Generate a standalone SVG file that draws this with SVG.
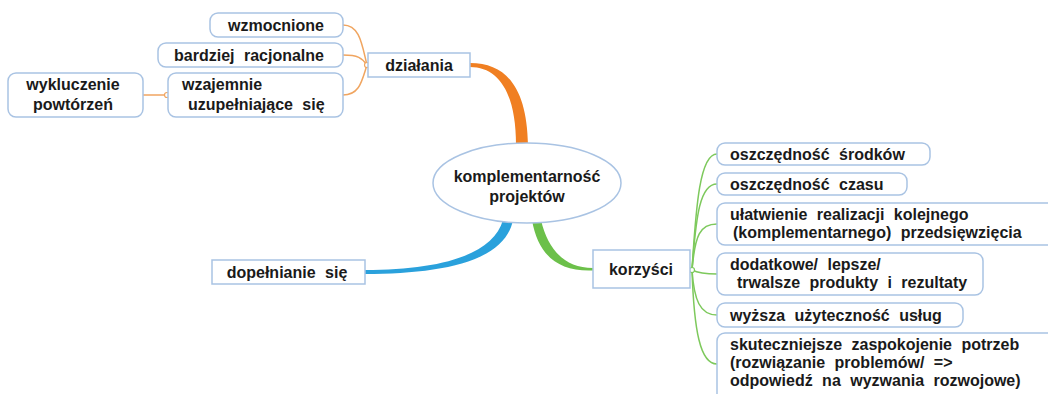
<svg xmlns="http://www.w3.org/2000/svg" width="1048" height="394" viewBox="0 0 1048 394">
<style>
text{font-family:"Liberation Sans",Arial,sans-serif;font-weight:bold;font-size:16px;fill:#1a1a1a;word-spacing:5px}
.c{text-anchor:middle}
.box{fill:#fff;stroke:#a9c3e3;stroke-width:1.5}
.ot{fill:none;stroke:#f0a560;stroke-width:1.5}
.gt{fill:none;stroke:#7dc95c;stroke-width:1.5}
.od{fill:#fff;stroke:#f0a560;stroke-width:1.2}
.gd{fill:#fff;stroke:#7dc95c;stroke-width:1.2}
</style>
<rect width="1048" height="394" fill="#fff"/>
<g id="connectors">
<path d="M470,63 C508,63 527,90 528,145 L516,145 C516,95 500,67 470,67 Z" fill="#f07f22"/>
<path d="M365,270 C440,270 493,255 503,220 L513,220 C505,262 440,274 365,274 Z" fill="#2aa1dc"/>
<path d="M532,220 L541,220 C548,250 565,268 593,268 L593,270.5 C558,272 538,255 532,220 Z" fill="#6cc04a"/>
<path class="ot" d="M343,25 C360,25 362,45 367,65"/>
<path class="ot" d="M343,55 C358,55 362,58 367,65"/>
<path class="ot" d="M343,95 C360,95 362,80 367,65"/>
<path class="ot" d="M143,95 L167,95"/>
<circle class="od" cx="367" cy="65" r="2.5"/>
<circle class="od" cx="167" cy="95" r="2.5"/>
<path class="gt" d="M692,270 C696,205 700,154 717,154"/>
<path class="gt" d="M692,270 C696,215 700,184 717,184"/>
<path class="gt" d="M692,270 C695,235 700,224 717,224"/>
<path class="gt" d="M692,270 C696,272 705,274 717,274"/>
<path class="gt" d="M692,270 C694,300 700,315 717,315"/>
<path class="gt" d="M692,270 C694,330 700,364 717,364"/>
<circle class="gd" cx="692" cy="270" r="2.5"/>
</g>
<g id="center">
<ellipse cx="527" cy="183" rx="94" ry="40" fill="#fff" stroke="#a9c3e3" stroke-width="1.5"/>
<text class="c" x="527" y="182">komplementarność</text>
<text class="c" x="527" y="202">projektów</text>
</g>
<g id="dzialania">
<rect class="box" x="368" y="53" width="102" height="24"/>
<text class="c" x="419" y="71">działania</text>
</g>
<g id="wzmocnione">
<rect class="box" x="210" y="13" width="133" height="24" rx="8"/>
<text class="c" x="276" y="31">wzmocnione</text>
</g>
<g id="bardziej">
<rect class="box" x="158" y="43" width="185" height="24" rx="8"/>
<text class="c" x="249" y="61">bardziej racjonalne</text>
</g>
<g id="wzajemnie">
<rect class="box" x="168" y="73" width="175" height="44" rx="8"/>
<text x="182" y="90">wzajemnie</text>
<text x="188" y="110">uzupełniające się</text>
</g>
<g id="wykluczenie">
<rect class="box" x="8" y="73" width="135" height="44" rx="8"/>
<text class="c" x="73" y="90">wykluczenie</text>
<text class="c" x="73" y="110">powtórzeń</text>
</g>
<g id="dopelnianie">
<rect class="box" x="212" y="260" width="153" height="24"/>
<text class="c" x="287" y="278">dopełnianie się</text>
</g>
<g id="korzysci">
<rect class="box" x="593" y="250" width="97" height="38"/>
<text class="c" x="641" y="275">korzyści</text>
</g>
<g id="srodkow">
<rect class="box" x="717" y="143" width="213" height="22" rx="8"/>
<text x="730" y="160">oszczędność środków</text>
</g>
<g id="czasu">
<rect class="box" x="717" y="173" width="190" height="22" rx="8"/>
<text x="730" y="190">oszczędność czasu</text>
</g>
<g id="ulatwienie">
<rect class="box" x="717" y="203" width="340" height="42" rx="8"/>
<text x="730" y="220">ułatwienie realizacji kolejnego</text>
<text x="733" y="238">(komplementarnego) przedsięwzięcia</text>
</g>
<g id="dodatkowe">
<rect class="box" x="717" y="253" width="266" height="42" rx="8"/>
<text x="730" y="270">dodatkowe/ lepsze/</text>
<text x="737" y="288">trwalsze produkty i rezultaty</text>
</g>
<g id="wyzsza">
<rect class="box" x="717" y="303" width="246" height="24" rx="8"/>
<text x="730" y="321">wyższa użyteczność usług</text>
</g>
<g id="skuteczniejsze">
<rect class="box" x="717" y="333" width="340" height="70" rx="8"/>
<text x="730" y="350">skuteczniejsze zaspokojenie potrzeb</text>
<text x="730" y="368">(rozwiązanie problemów/ =&gt;</text>
<text x="730" y="386">odpowiedź na wyzwania rozwojowe)</text>
</g>
</svg>
